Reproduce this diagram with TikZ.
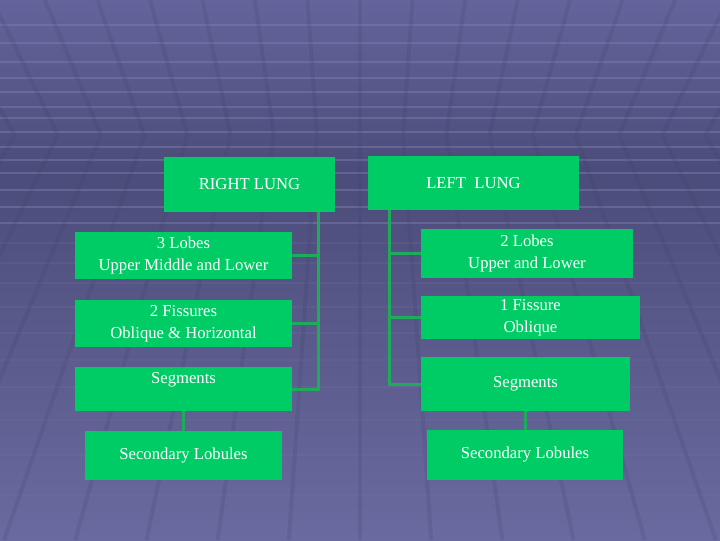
\documentclass[tikz,border=0pt]{standalone}
\usepackage{fontspec}
\setmainfont{Liberation Serif}
\usetikzlibrary{positioning}
\definecolor{bgtop}{RGB}{100,100,156}
\definecolor{bgmid}{RGB}{76,76,122}
\definecolor{bgbot}{RGB}{106,106,160}
\definecolor{bgline}{RGB}{124,124,174}
\definecolor{bgdark}{RGB}{66,66,108}
\definecolor{boxgreen}{RGB}{0,204,102}
\definecolor{linkgreen}{RGB}{30,172,90}
\begin{document}
\begin{tikzpicture}[x=0.75pt, y=-0.75pt,
  box/.style={fill=boxgreen, text=white, inner sep=0pt, align=center,
    font=\fontsize{12.5}{16.5}\selectfont},
  link/.style={draw=linkgreen, line width=2.25pt},
  floor/.style={draw=bgline, line width=1.5pt},
  wall/.style={draw=bgdark, line width=3pt, opacity=0.2}]
\useasboundingbox (0,0) rectangle (720,540);
\shade[top color=bgtop, bottom color=bgmid] (0,0) rectangle (720,170);
\shade[top color=bgmid, bottom color=bgbot] (0,170) rectangle (720,540);
\foreach \y in {25,43,62,78,92,107,118,132,147,160,173,190,207,223}
  \draw[floor, opacity=0.5] (0,\y) -- (720,\y);
\foreach \y in {243,263,283,307,333,360,387,420,455,495}
  \draw[floor, opacity=0.15] (0,\y) -- (720,\y);
\foreach \t in {-10,...,10} {
  \pgfmathsetmacro\p{360+52.5*\t*0.8224}
  \draw[wall] ({360+52.5*\t},0) -- (\p,135) -- ({360+(\p-360)*1.648},540);
}

\node[box, minimum width=128.25pt, minimum height=41.25pt] (rl) at (249.5,184.5) {RIGHT LUNG};
\node[box, minimum width=158.25pt, minimum height=40.5pt] (ll) at (473.5,183) {LEFT\ \ LUNG};

\node[box, minimum width=162.75pt, minimum height=35.25pt] (rlobes) at (183.5,255.5) {3 Lobes\\Upper Middle and Lower};
\node[box, minimum width=162.75pt, minimum height=35.25pt] (rfiss) at (183.5,323.5) {2 Fissures\\Oblique \& Horizontal};
\node[box, minimum width=162.75pt, minimum height=33pt] (rseg) at (183.5,389) {Segments\\\mbox{}};
\node[box, minimum width=147.75pt, minimum height=36.75pt] (rsec) at (183.5,455.5) {Secondary Lobules};

\node[box, minimum width=159pt, minimum height=36.75pt] (llobes) at (527,253.5) {2 Lobes\\Upper and Lower};
\node[box, minimum width=164.25pt, minimum height=32.25pt] (lfiss) at (530.5,317.5) {1 Fissure\\Oblique};
\node[box, minimum width=156.75pt, minimum height=40.5pt] (lseg) at (525.5,384) {Segments};
\node[box, minimum width=147pt, minimum height=37.5pt] (lsec) at (525,455) {Secondary Lobules};

\coordinate (rbar) at (318,0);
\coordinate (lbar) at (389,0);

\draw[link] (rl.south -| rbar) |- (rseg.east);
\draw[link] (rlobes.east) -- (rlobes.east -| rbar);
\draw[link] (rfiss.east) -- (rfiss.east -| rbar);
\draw[link] (rseg.south) -- (rsec.north);

\draw[link] (ll.south -| lbar) |- (lseg.west);
\draw[link] (llobes.west) -- (llobes.west -| lbar);
\draw[link] (lfiss.west) -- (lfiss.west -| lbar);
\draw[link] (lseg.south) -- (lseg.south |- lsec.north);
\end{tikzpicture}
\end{document}
